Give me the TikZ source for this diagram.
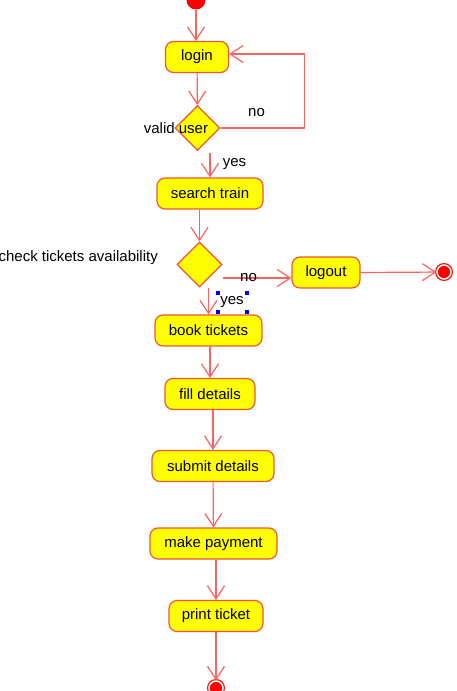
\documentclass[tikz,border=0pt]{standalone}
\usepackage{fontspec}
\setmainfont{Liberation Sans}
\usepackage{tikz}
\usetikzlibrary{shapes.geometric, arrows.meta, positioning, calc}
\definecolor{actfill}{RGB}{255,255,0}
\definecolor{actedge}{RGB}{240,85,55}
\definecolor{flowred}{RGB}{255,96,96}

\begin{document}
\begin{tikzpicture}[x=1pt, y=-1pt,
  act/.style={rectangle, draw=actedge, fill=actfill, rounded corners=8pt, line width=1.2pt, minimum height=31pt, inner xsep=0pt, font=\fontsize{15}{17}\selectfont},
  decision/.style={diamond, draw=actedge, fill=actfill, line width=1.2pt, minimum width=45pt, minimum height=45pt, inner sep=0pt},
  startdot/.style={circle, fill=red, minimum size=19pt, inner sep=0pt},
  enddot/.style={circle, draw=red, fill=red, line width=1.2pt, double=white, double distance=1.5pt, minimum size=14pt, inner sep=0pt},
  flow/.style={draw=flowred, line width=1.2pt, -{Straight Barb[length=13pt, width=17pt]}},
  lbl/.style={font=\fontsize{15}{17}\selectfont, inner sep=0pt},
  handle/.style={fill=blue, minimum size=4pt, inner sep=0pt},
]
\useasboundingbox (0,0) rectangle (456,691);
\clip (0,0) rectangle (456,691);

\node[startdot] (start) at (196,0) {};
\node[act, minimum width=63pt] (login) at (197,57) {login};
\node[decision] (vu) at (197.5,128) {};
\node[lbl] (vulbl) at (176,128) {valid user};
\node[act, minimum width=106pt] (search) at (210,193.5) {search train};
\node[decision] (chk) at (199.5,264.5) {};
\node[lbl, anchor=east] (chklbl) at (158,258) {check tickets availability};
\node[act, minimum width=68pt] (logout) at (326,272.5) {logout};
\node[enddot] (end1) at (444,272) {};
\node[act, minimum width=107pt] (book) at (208.5,330.5) {book tickets};
\node[act, minimum width=90pt] (fill) at (210,394) {fill details};
\node[act, minimum width=122pt] (submit) at (213,466) {submit details};
\node[act, minimum width=127pt] (pay) at (213.5,543.5) {make payment};
\node[act, minimum width=94pt] (print) at (216,616) {print ticket};
\node[enddot] (end2) at (216,688) {};

\draw[flow] (start) -- (start |- login.north);
\draw[flow] (login) -- (vu);
\draw[flow] (vu.east) -- ++(84,0) |- ([yshift=3pt]login.east);
\node[lbl] (nolbl1) at (256.5,113) {no};
\draw[flow] (search.north |- vu.south) ++(0,2) -- (search.north);
\node[lbl] (yeslbl1) at (234.5,164) {yes};
\draw[flow] (search.south -| chk.north) -- (chk.north);
\coordinate (noin) at ([yshift=-5.5pt]logout.west);
\draw[flow] (chk.east |- noin) -- (noin);
\node[lbl] (nolbl2) at (248.5,278) {no};
\draw[flow] (logout.east) -- (end1);
\draw[flow] (book.north |- chk.south) -- (book.north);
\node[lbl] (yeslbl2) at (232,302) {yes};
\foreach \hx/\hy in {218/293, 247/293, 218/311.5, 247/311.5}
  \node[handle] at (\hx,\hy) {};
\draw[flow] (book.south -| fill.north) -- (fill.north);
\draw[flow] (fill.south -| submit.north) -- (submit.north);
\draw[flow] (submit) -- (pay);
\draw[flow] (pay.south -| print.north) -- (print.north);
\draw[flow] (print) -- (end2);
\end{tikzpicture}
\end{document}
